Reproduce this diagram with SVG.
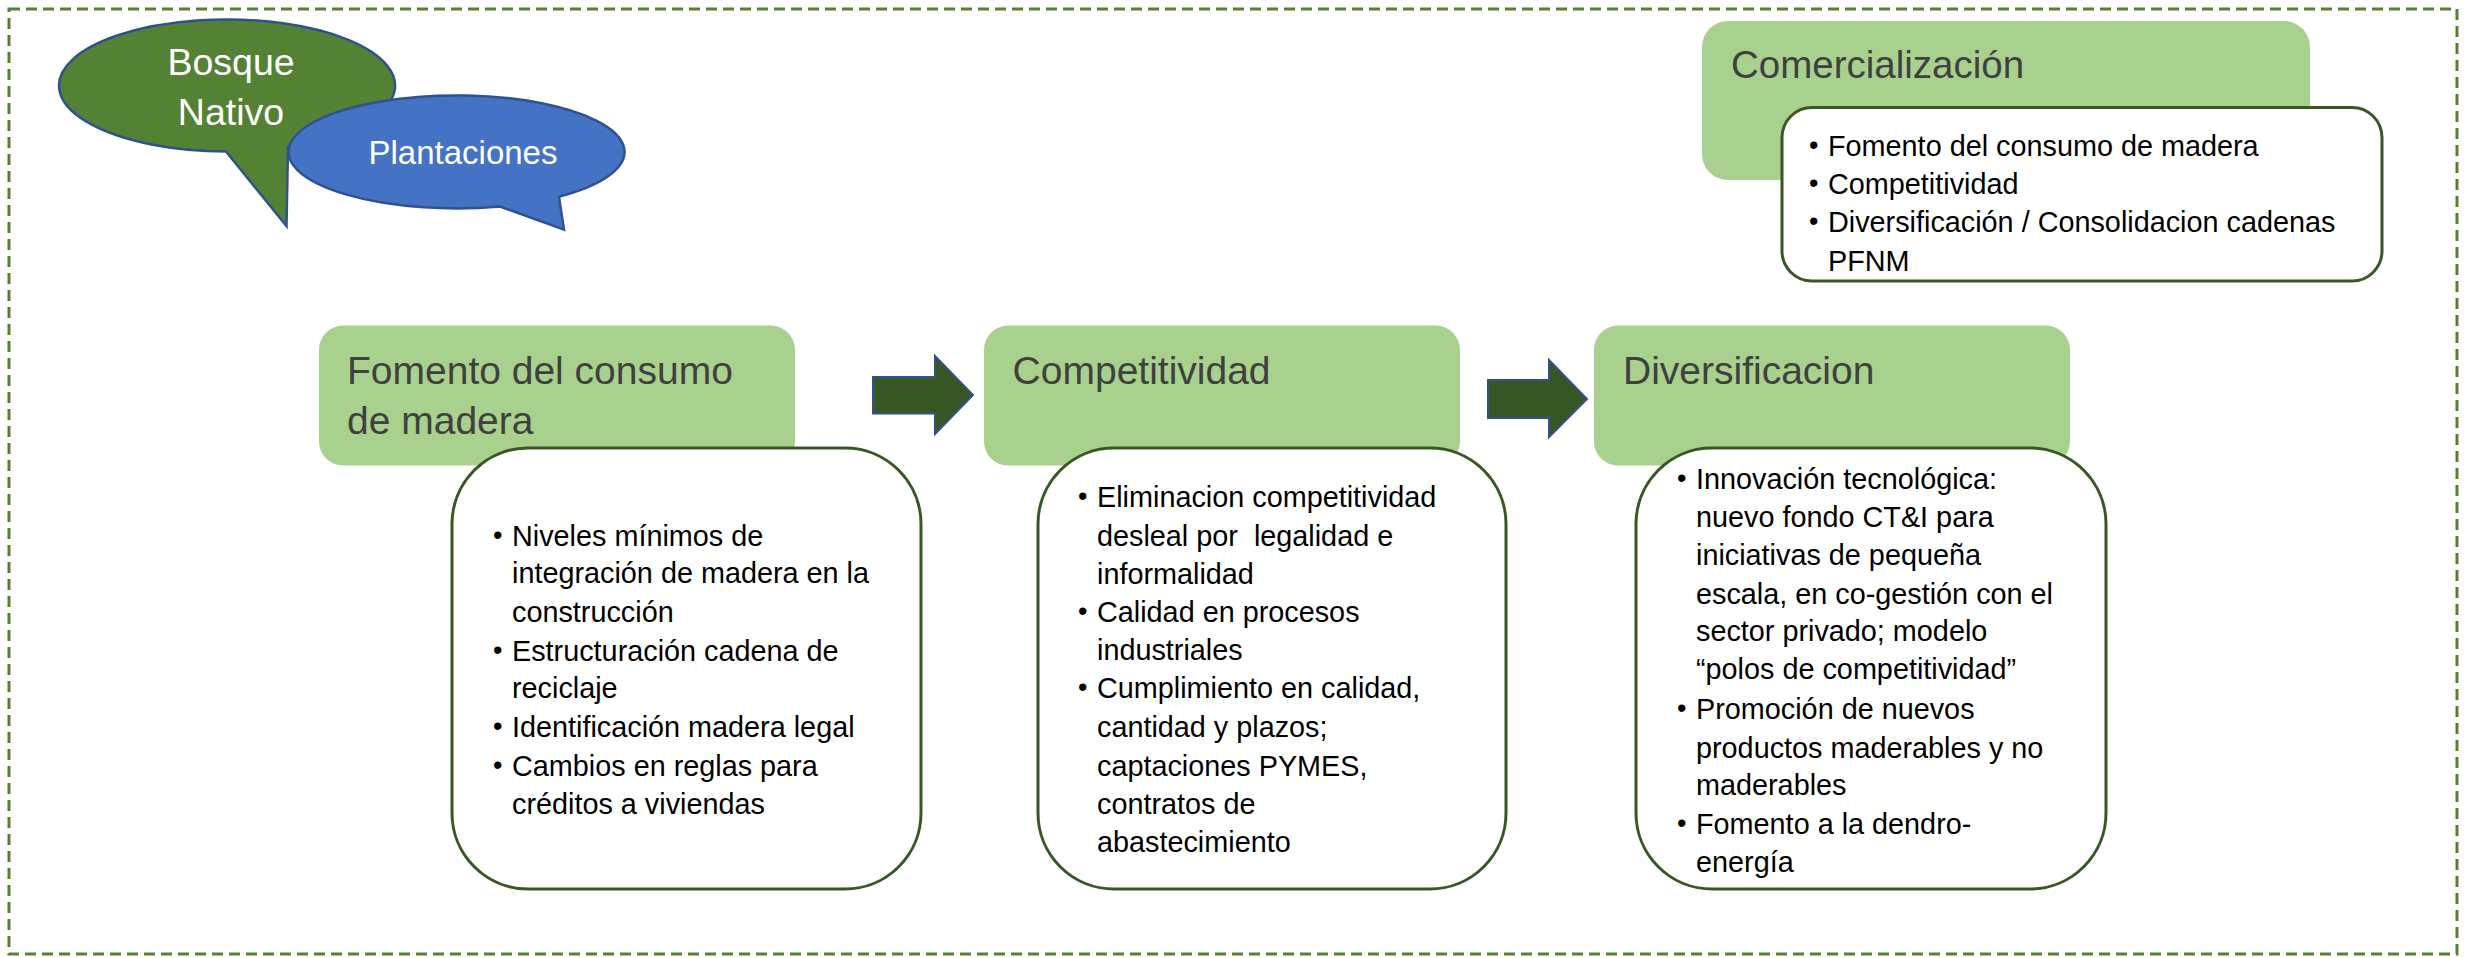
<svg xmlns="http://www.w3.org/2000/svg" width="2471" height="958" viewBox="0 0 2471 958">
  <style>
    .frame { fill: none; stroke: #548235; stroke-width: 3; stroke-dasharray: 11 6; }
    .head { fill: #A9D18E; }
    .card { fill: #FFFFFF; stroke: #385723; stroke-width: 3; }
    .title { font-family: "Liberation Sans", Arial, sans-serif; font-size: 39px; fill: #404040; }
    .item { font-family: "Liberation Sans", Arial, sans-serif; font-size: 28.8px; fill: #000000; }
    .bul { font-family: "Liberation Sans", Arial, sans-serif; font-size: 27px; fill: #000000; }
    .bubtxt { font-family: "Liberation Sans", Arial, sans-serif; fill: #FFFFFF; text-anchor: middle; }
    .arrow { fill: #375623; stroke: #2F528F; stroke-width: 2; }
  </style>

  <rect class="frame" x="9" y="9" width="2448" height="945"/>

  <g id="bosque-nativo">
    <path d="M226,151.5 A168,66 0 1 1 288,147 L286.5,226 Z" fill="#548235" stroke="#2F528F" stroke-width="2.5" stroke-linejoin="miter"/>
    <text class="bubtxt" x="231" y="74.5" font-size="37.5">Bosque</text>
    <text class="bubtxt" x="231" y="125" font-size="37.5">Nativo</text>
  </g>

  <g id="plantaciones">
    <path d="M500,206.5 A168,56.5 0 1 1 559,196.7 L564,229.7 Z" fill="#4472C4" stroke="#2F528F" stroke-width="2.5"/>
    <text class="bubtxt" x="463" y="164" font-size="33">Plantaciones</text>
  </g>

  <g id="comercializacion">
    <rect class="head" x="1702" y="21" width="608" height="159" rx="26"/>
    <text class="title" x="1731" y="78" style="font-size:38.5px">Comercialización</text>
    <rect class="card" x="1782" y="107.5" width="600" height="173.5" rx="30"/>
    <text class="bul" x="1809" y="154">•</text>
    <text class="item" x="1828" y="155.8">Fomento del consumo de madera</text>
    <text class="bul" x="1809" y="192">•</text>
    <text class="item" x="1828" y="194">Competitividad</text>
    <text class="bul" x="1809" y="230">•</text>
    <text class="item" x="1828" y="232">Diversificación / Consolidacion cadenas</text>
    <text class="item" x="1828" y="270.6">PFNM</text>
  </g>

  <g id="fomento">
    <rect class="head" x="319" y="325.6" width="476" height="140" rx="24"/>
    <text class="title" x="347" y="383.6">Fomento del consumo</text>
    <text class="title" x="347" y="433.7">de madera</text>
    <rect class="card" x="452" y="448" width="469" height="441" rx="76"/>
    <text class="bul" x="493" y="544">•</text>
    <text class="item" x="512" y="545.5">Niveles mínimos de</text>
    <text class="item" x="512" y="583.4">integración de madera en la</text>
    <text class="item" x="512" y="622">construcción</text>
    <text class="bul" x="493" y="659">•</text>
    <text class="item" x="512" y="661">Estructuración cadena de</text>
    <text class="item" x="512" y="698">reciclaje</text>
    <text class="bul" x="493" y="735">•</text>
    <text class="item" x="512" y="737">Identificación madera legal</text>
    <text class="bul" x="493" y="774">•</text>
    <text class="item" x="512" y="776">Cambios en reglas para</text>
    <text class="item" x="512" y="814">créditos a viviendas</text>
  </g>

  <g id="competitividad">
    <rect class="head" x="984" y="325.6" width="476" height="140" rx="24"/>
    <text class="title" x="1012.6" y="383.6">Competitividad</text>
    <rect class="card" x="1038" y="448" width="468" height="441" rx="76"/>
    <text class="bul" x="1078" y="505">•</text>
    <text class="item" x="1097" y="507">Eliminacion competitividad</text>
    <text class="item" x="1097" y="545.5" xml:space="preserve">desleal por  legalidad e</text>
    <text class="item" x="1097" y="583.5">informalidad</text>
    <text class="bul" x="1078" y="620">•</text>
    <text class="item" x="1097" y="622">Calidad en procesos</text>
    <text class="item" x="1097" y="660">industriales</text>
    <text class="bul" x="1078" y="696">•</text>
    <text class="item" x="1097" y="698">Cumplimiento en calidad,</text>
    <text class="item" x="1097" y="737">cantidad y plazos;</text>
    <text class="item" x="1097" y="776">captaciones PYMES,</text>
    <text class="item" x="1097" y="814">contratos de</text>
    <text class="item" x="1097" y="852">abastecimiento</text>
  </g>

  <g id="diversificacion">
    <rect class="head" x="1594" y="325.6" width="476" height="140" rx="24"/>
    <text class="title" x="1623" y="383.6">Diversificacion</text>
    <rect class="card" x="1636" y="448" width="470" height="441" rx="76"/>
    <text class="bul" x="1677" y="487">•</text>
    <text class="item" x="1696" y="488.7">Innovación tecnológica:</text>
    <text class="item" x="1696" y="526.6">nuevo fondo CT&amp;I para</text>
    <text class="item" x="1696" y="565">iniciativas de pequeña</text>
    <text class="item" x="1696" y="603.5">escala, en co-gestión con el</text>
    <text class="item" x="1696" y="641">sector privado; modelo</text>
    <text class="item" x="1696" y="679">“polos de competitividad”</text>
    <text class="bul" x="1677" y="717">•</text>
    <text class="item" x="1696" y="719">Promoción de nuevos</text>
    <text class="item" x="1696" y="757.5">productos maderables y no</text>
    <text class="item" x="1696" y="795">maderables</text>
    <text class="bul" x="1677" y="832">•</text>
    <text class="item" x="1696" y="834">Fomento a la dendro-</text>
    <text class="item" x="1696" y="872">energía</text>
  </g>

  <g id="connectors">
    <path class="arrow" d="M873,377 L935,377 L935,356 L973,395 L935,434 L935,413.6 L873,413.6 Z"/>
    <path class="arrow" d="M1488,380 L1549,380 L1549,360 L1587,399 L1549,437 L1549,418 L1488,418 Z"/>
  </g>
</svg>
